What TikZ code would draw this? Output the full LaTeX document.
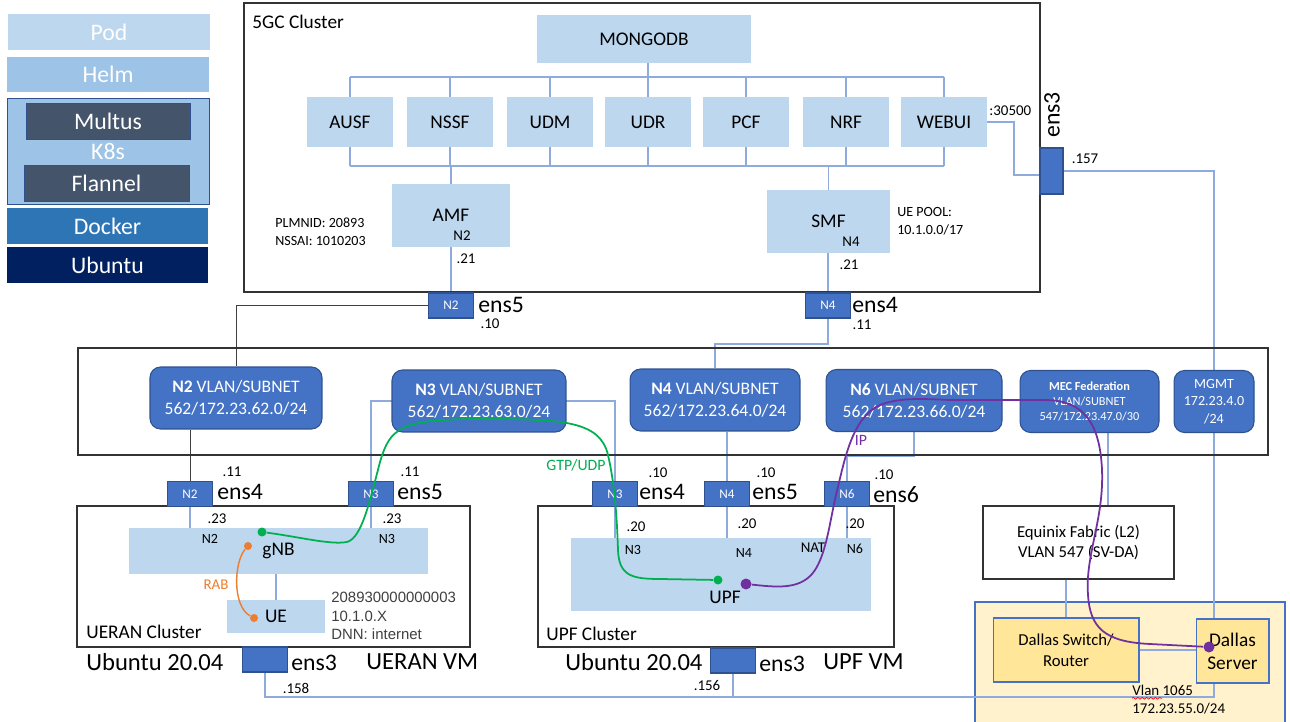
\documentclass[tikz,border=0pt]{standalone}
\usepackage{fontspec}
\setmainfont{Carlito}
\newfontfamily\helv{Liberation Sans}
\usetikzlibrary{backgrounds,decorations.pathmorphing}

\definecolor{paleblue}{HTML}{BDD7EE}
\definecolor{helmblue}{HTML}{9DC3E6}
\definecolor{slate}{HTML}{44546A}
\definecolor{dockerblue}{HTML}{2E75B6}
\definecolor{navy}{HTML}{002060}
\definecolor{vlanblue}{HTML}{4472C4}
\definecolor{vlanedge}{HTML}{2F528F}
\definecolor{linkblue}{HTML}{8FAADC}
\definecolor{gtpgreen}{HTML}{00B050}
\definecolor{rabor}{HTML}{ED7D31}
\definecolor{ippurple}{HTML}{7030A0}
\definecolor{sandfill}{HTML}{FFF2CC}
\definecolor{goldfill}{HTML}{FFE699}

\newcommand{\fsz}[2]{\fontsize{#1}{#2}\selectfont}

\begin{document}
\begin{tikzpicture}
  [
    x = 0.02cm, y = -0.02cm,
    every node/.style = {inner sep=0},
    layer box/.style = {fill=#1, text=white, font=\fsz{13.5}{15}, minimum width=4.04cm, minimum height=0.72cm},
    cluster frame/.style = {draw=black!80, line width=0.8pt},
    nf/.style = {fill=paleblue, font=\fsz{11}{13}},
    vlan/.style = {fill=vlanblue, draw=vlanedge, line width=0.6pt, rounded corners=6pt, text=white, align=center, minimum height=1.24cm, font=\fsz{10}{12.5}},
    port/.style = {fill=vlanblue, draw=vlanedge, line width=0.6pt, text=white, font=\fsz{7.5}{8}, minimum width=0.9cm, minimum height=0.5cm},
    iface/.style = {anchor=west, font=\fsz{13.5}{15}},
    addr/.style = {font=\fsz{8.5}{10}},
    note/.style = {anchor=west, align=left, font=\fsz{8}{10.2}},
    site box/.style = {draw=vlanblue, fill=goldfill, line width=0.6pt, align=center, minimum height=1.28cm},
    net line/.style = {draw=linkblue, line width=0.6pt},
    n2 line/.style = {draw=black!75, line width=0.5pt},
    flow/.style = {line width=1pt, draw=#1},
    end dot/.style = {circle, fill=#1, minimum size=0.18cm},
  ]
  \useasboundingbox (0,0) rectangle (1290,722);

  % stack legend
  \node[layer box=paleblue] (pod) at (109,32) {Pod};
  \node[layer box=helmblue, minimum height=0.7cm] (helm) at (108,74.5) {Helm};
  \node[layer box=helmblue, draw=vlanedge, minimum height=2.12cm] (k8s) at (108,151) {K8s};
  \node[layer box=slate, draw=vlanedge, minimum width=3.28cm] (multus) at (108,121) {Multus};
  \node[layer box=slate, draw=vlanedge, minimum width=3.3cm] (flannel) at (106.5,183) {Flannel};
  \node[layer box=dockerblue] (docker) at (107.5,226) {Docker};
  \node[layer box=navy] (ubuntu) at (107.5,265) {Ubuntu};

  % 5GC cluster
  \node[cluster frame, minimum width=15.92cm, minimum height=5.78cm] (core) at (642,147.5) {};
  \node[anchor=west, font=\fsz{11}{13}] (core name) at (252,22) {5GC Cluster};
  \node[nf, minimum width=4.28cm, minimum height=0.96cm] (mongodb) at (644,39) {MONGODB};
  \foreach \nf/\x/\lbl in {ausf/350/AUSF, nssf/450/NSSF, udm/550/UDM, udr/648/UDR, pcf/746/PCF, nrf/846/NRF, webui/944/WEBUI}
    \node[nf, minimum width=1.72cm, minimum height=1cm] (\nf) at (\x,122) {\lbl};
  \node[nf, minimum width=2.36cm, minimum height=1.26cm] (amf) at (451,215.5) {AMF};
  \node[nf, minimum width=2.46cm, minimum height=1.26cm] (smf) at (828.5,221.5) {SMF};
  \node[addr] (amf n2) at (462,236) {N2};
  \node[addr] (smf n4) at (851,242) {N4};
  \node[addr] (amf ip) at (466,259) {.21};
  \node[addr] (smf ip) at (849,265) {.21};
  \node[note] (plmn) at (275,232) {PLMNID: 20893\\NSSAI: 1010203};
  \node[note] (ue pool) at (897,221) {UE POOL:\\10.1.0.0/17};
  \node[addr, anchor=west] (webui nodeport) at (989,111) {:30500};

  \node[port] (amf port) at (451,305.5) {N2};
  \node[port] (smf port) at (828,305.5) {N4};
  \node[port, minimum width=0.46cm, minimum height=0.92cm] (core mgmt port) at (1051.5,171) {};
  \node[iface] (amf if) at (478,305) {ens5};
  \node[iface] (smf if) at (852,305) {ens4};
  \node[iface, anchor=center, rotate=90] (core mgmt if) at (1052,115) {ens3};
  \node[addr] (amf port ip) at (490,324) {.10};
  \node[addr] (smf port ip) at (862,325) {.11};
  \node[addr] (core mgmt ip) at (1085,159) {.157};

  % VLAN / subnet row
  \node[cluster frame, minimum width=23.8cm, minimum height=2.14cm] (fabric) at (673,401.5) {};
  \node[vlan, minimum width=3.44cm] (n2 vlan) at (236,398) {\textbf{N2} VLAN/SUBNET\\562/172.23.62.0/24};
  \node[vlan, minimum width=3.48cm] (n3 vlan) at (479,401) {\textbf{N3} VLAN/SUBNET\\562/172.23.63.0/24};
  \node[vlan, minimum width=3.4cm] (n4 vlan) at (715,400) {\textbf{N4} VLAN/SUBNET\\562/172.23.64.0/24};
  \node[vlan, minimum width=3.52cm] (n6 vlan) at (914,400.5) {\textbf{N6} VLAN/SUBNET\\562/172.23.66.0/24};
  \node[vlan, minimum width=2.78cm, font=\fsz{7}{8.5}] (mec vlan) at (1089.5,401.5) {\textbf{MEC Federation}\\VLAN/SUBNET\\547/172.23.47.0/30};
  \node[vlan, minimum width=1.6cm, font=\fsz{8}{10}] (mgmt vlan) at (1214,401.5) {MGMT\\172.23.4.0\\/24};

  % UERAN VM
  \node[cluster frame, minimum width=7.86cm, minimum height=2.82cm] (ueran) at (273.5,576.5) {};
  \node[anchor=west, font=\fsz{11}{13}] (ueran name) at (86,632) {UERAN Cluster};
  \node[nf, minimum width=5.98cm, minimum height=0.92cm] (gnb) at (278.5,551) {gNB};
  \node[nf, minimum width=1.96cm, minimum height=0.66cm] (ue) at (276,616.5) {UE};
  \node[port] (ueran n2 port) at (190,494) {N2};
  \node[port] (ueran n3 port) at (371,494) {N3};
  \node[iface] (ueran n2 if) at (217,492) {ens4};
  \node[iface] (ueran n3 if) at (397,492) {ens5};
  \node[addr] (ueran n2 ip) at (232,472) {.11};
  \node[addr] (ueran n3 ip) at (410,472) {.11};
  \node[addr] (gnb n2 ip) at (217,519) {.23};
  \node[addr] (gnb n3 ip) at (392,519) {.23};
  \node[font=\fsz{8}{10}] (gnb n2) at (210,539) {N2};
  \node[font=\fsz{8}{10}] (gnb n3) at (387,539) {N3};
  \node[note, font=\helv\fsz{8.5}{10.5}, text=black!75] (ue info) at (331,616) {208930000000003\\10.1.0.X\\DNN: internet};
  \node[iface, font=\fsz{14}{16}] (ueran os) at (86,662) {Ubuntu 20.04};
  \node[port] (ueran mgmt port) at (265,659.5) {};
  \node[iface] (ueran mgmt if) at (291,663) {ens3};
  \node[iface, font=\fsz{14}{16}] (ueran vm) at (366,662) {UERAN VM};
  \node[addr] (ueran mgmt ip) at (296,688) {.158};
  \node[addr, text=rabor] (rab) at (216,585) {RAB};

  % UPF VM
  \node[cluster frame, minimum width=7.12cm, minimum height=2.82cm] (upf vm) at (716,576.5) {};
  \node[anchor=west, font=\fsz{11}{13}] (upf name) at (546,634) {UPF Cluster};
  \node[nf, minimum width=6cm, minimum height=1.46cm] (upf) at (721,574.5) {};
  \node[font=\fsz{11}{13}] (upf label) at (725,597) {UPF};
  \node[port] (upf n3 port) at (615,494) {N3};
  \node[port] (upf n4 port) at (727,494) {N4};
  \node[port] (upf n6 port) at (847,494) {N6};
  \node[iface] (upf n3 if) at (639,492) {ens4};
  \node[iface] (upf n4 if) at (752,492) {ens5};
  \node[iface] (upf n6 if) at (873,495) {ens6};
  \node[addr] (upf n3 ip) at (658,473) {.10};
  \node[addr] (upf n4 ip) at (766,473) {.10};
  \node[addr] (upf n6 ip) at (884,475) {.10};
  \node[addr] (upf n3 in) at (636,527) {.20};
  \node[addr] (upf n4 in) at (747,524) {.20};
  \node[addr] (upf n6 in) at (855,524) {.20};
  \node[font=\fsz{8}{10}] (upf n3) at (633,550) {N3};
  \node[font=\fsz{8}{10}] (upf n4) at (744,553) {N4};
  \node[addr] (upf nat) at (813,548) {NAT};
  \node[font=\fsz{8}{10}] (upf n6) at (855,549) {N6};
  \node[iface, font=\fsz{14}{16}] (upf os) at (565,662) {Ubuntu 20.04};
  \node[port] (upf mgmt port) at (733,660.5) {};
  \node[iface] (upf mgmt if) at (759,664) {ens3};
  \node[iface, font=\fsz{14}{16}] (upf vm name) at (823,662) {UPF VM};
  \node[addr] (upf mgmt ip) at (707,686) {.156};

  % Equinix and Dallas
  \node[cluster frame, minimum width=3.82cm, minimum height=1.46cm, align=center, font=\fsz{9.5}{11.5}] (equinix) at (1078.5,542.5) {Equinix Fabric (L2)\\VLAN 547 (SV-DA)};
  \node[site box, minimum width=2.92cm, font=\fsz{9.5}{12}] (dallas switch) at (1066,650) {Dallas Switch/\\Router};
  \node[site box, minimum width=1.46cm, font=\fsz{11}{13}] (dallas server) at (1232.5,651) {Dallas\\Server};
  \node[addr, anchor=west] (vlan note) at (1132,690) {Vlan 1065};
  \node[addr, anchor=west] (subnet note) at (1132,709) {172.23.55.0/24};
  \draw[red, decorate, decoration={snake, amplitude=0.5pt, segment length=2.5pt}] ([yshift=-1.8pt]vlan note.base west) -- ++(30,0);

  \begin{scope}[on background layer]
    \fill[white] (0,0) rectangle (1290,722);
    \node[fill=sandfill, draw=vlanblue, line width=0.8pt, minimum width=6.2cm, minimum height=2.6cm] (dallas site) at (1130,667) {};
    \coordinate (top bus) at (0,77);
    \coordinate (low bus) at (0,166);
    \foreach \nf in {ausf,nssf,udm,pcf,nrf,webui}
      \draw[net line] (\nf.north) -- (\nf.north |- top bus);
    \foreach \nf in {ausf,nssf,udm,udr,pcf,nrf,webui}
      \draw[net line] (\nf.south) -- (\nf.south |- low bus);
    \draw[net line] (ausf.north |- top bus) -- (webui.north |- top bus);
    \draw[net line] (ausf.south |- low bus) -- (webui.south |- low bus);
    \draw[net line] (udr.north |- mongodb.south) -- (udr.north);
    \draw[net line] (amf.north) -- (amf.north |- low bus);
    \draw[net line] (smf.north) -- (smf.north |- low bus);
    \draw[net line] (amf.south) -- (amf port.north);
    \draw[net line] (smf.south -| smf port.north) -- (smf port.north);
    \coordinate (webui bend) at (1014,175);
    \draw[net line] (webui.east) -| (webui bend) -- (webui bend -| core mgmt port.west);
    \draw[net line] (core mgmt port.east) -| (mgmt vlan.north);

    \draw[n2 line] (amf port.west) -| (n2 vlan.north);
    \coordinate (n4 bend) at (0,344);
    \draw[net line] (smf port.south) -- (smf port.south |- n4 bend) -| (n4 vlan.north);
    \draw[n2 line] (ueran n2 port.north |- n2 vlan.south) -- (ueran n2 port.north);
    \coordinate (n3 bend) at (0,401);
    \draw[net line] (ueran n3 port.north) -- (ueran n3 port.north |- n3 bend) -| (upf n3 port.north);
    \draw[net line] (upf n4 port.north |- n4 vlan.south) -- (upf n4 port.north);
    \draw[net line] (n6 vlan.south) -- ++(0,24) -| (upf n6 port.north);
    \coordinate (mec drop) at (1108,0);
    \draw[net line] (mec drop |- mec vlan.south) -- (mec drop |- equinix.north);
    \draw[net line] (mgmt vlan.south) -- (mgmt vlan.south |- dallas server.north);

    \draw[net line] (ueran n2 port.south) -- (ueran n2 port.south |- gnb.north);
    \draw[net line] (ueran n3 port.south) -- (ueran n3 port.south |- gnb.north);
    \draw[net line] (gnb.south -| ue.north) -- (ue.north);
    \foreach \p in {upf n3 port, upf n4 port, upf n6 port}
      \draw[net line] (\p.south) -- (\p.south |- upf.north);

    \draw[net line] (equinix.south -| dallas switch.north) -- (dallas switch.north);
    \draw[net line] (dallas switch.east) -- (dallas switch.east -| dallas server.west);
    \coordinate (lan corner) at (1214,697);
    \draw[net line] (ueran mgmt port.south) |- (lan corner) -- (lan corner |- dallas server.south);
    \draw[net line] (upf mgmt port.south) -- (upf mgmt port.south |- lan corner);
  \end{scope}

  % traffic paths
  \node[end dot=rabor, minimum size=0.16cm] (rab gnb) at (248,546) {};
  \node[end dot=rabor, minimum size=0.16cm] (rab ue) at (254,618) {};
  \draw[flow=rabor, line width=0.8pt] (rab gnb) .. controls (234,562) and (232,606) .. (rab ue);

  \node[end dot=gtpgreen] (gtp gnb) at (262,532) {};
  \node[end dot=gtpgreen] (gtp upf) at (718,580) {};
  \draw[flow=gtpgreen] (gtp gnb) .. controls (300,537) and (330,545) .. (347,542)
    .. controls (362,538) and (370,500) .. (380,462)
    .. controls (390,428) and (400,419) .. (480,419)
    .. controls (560,419) and (600,420) .. (608,455)
    .. controls (615,485) and (617,520) .. (618,550)
    .. controls (619,576) and (632,579) .. (660,579) -- (gtp upf);
  \node[font=\fsz{9}{11}, text=gtpgreen] (gtp label) at (576,465) {GTP/UDP};

  \node[end dot=ippurple, minimum size=0.22cm] (ip upf) at (746,584) {};
  \node[end dot=ippurple, minimum size=0.22cm] (ip server) at (1209,647) {};
  \draw[flow=ippurple] (ip upf) .. controls (775,587) and (798,590) .. (812,574)
    .. controls (826,558) and (830,520) .. (836,495)
    .. controls (845,458) and (852,418) .. (880,405)
    .. controls (900,397) and (925,399) .. (950,400) -- (1045,400)
    .. controls (1085,400) and (1100,425) .. (1102,470)
    .. controls (1104,520) and (1085,555) .. (1088,595)
    .. controls (1090,628) and (1105,642) .. (1150,644) -- (ip server);
  \node[font=\fsz{9}{11}, text=ippurple] (ip label) at (861,440) {IP};

\end{tikzpicture}
\end{document}
